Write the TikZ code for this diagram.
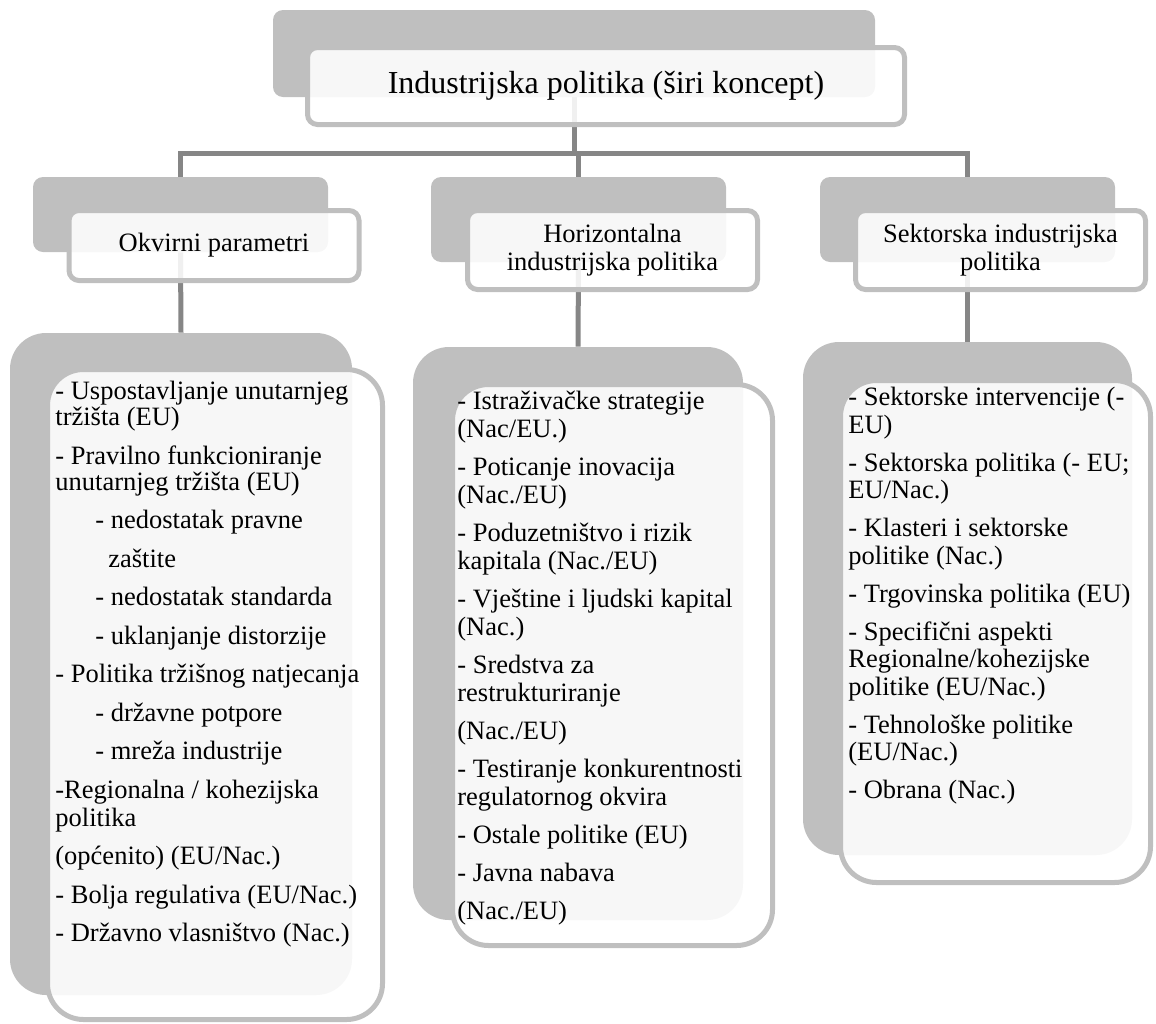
\documentclass[tikz,border=0pt]{standalone}
\usepackage{fontspec}
\setmainfont{Liberation Serif}
\usepackage{tikz}
\usetikzlibrary{backgrounds}
\definecolor{backgray}{RGB}{191,191,191}
\definecolor{linkgray}{RGB}{134,134,134}

\begin{document}
\begin{tikzpicture}[x=0.5pt,y=-0.5pt]
            \tikzstyle{every node}+=[inner sep=0pt]
            \tikzstyle{backbox}=[draw=none, fill=backgray, rounded corners=5pt]
            \tikzstyle{frontbox}=[draw=backgray, line width=2.5pt, fill=white, fill opacity=0.88, text opacity=1, rounded corners=5pt, align=center, font=\fontsize{13.25}{14}\selectfont]
            \tikzstyle{itemtext}=[anchor=north west, align=left]
            \tikzstyle{link}=[draw=linkgray, line width=2.5pt]
            \useasboundingbox (0,0) rectangle (1156,1023);
            \coordinate (bus) at (0,153);
            \node [backbox, minimum width=301pt, minimum height=43.5pt] (titleback) at (574,53.5) {};
            \node [frontbox, minimum width=298.5pt, minimum height=38.5pt, font=\fontsize{16}{18}\selectfont] (title) at (606,86) {Industrijska politika (širi koncept)};
            \node [backbox, minimum width=147.5pt, minimum height=37.5pt] (okvirback) at (180.5,214.5) {};
            \node [frontbox, minimum width=145pt, minimum height=35pt] (okvir) at (214,245.5) {Okvirni parametri};
            \node [backbox, minimum width=147.5pt, minimum height=42.5pt] (horizback) at (578.5,219.5) {};
            \node [frontbox, minimum width=145pt, minimum height=39.5pt] (horiz) at (612.5,250) {Horizontalna\\industrijska politika};
            \node [backbox, minimum width=147.5pt, minimum height=42.5pt] (sektorback) at (967.5,219.5) {};
            \node [frontbox, minimum width=145pt, minimum height=39.5pt] (sektor) at (1000.5,250) {Sektorska industrijska\\politika};
            \node [backbox, rounded corners=18pt, minimum width=171pt, minimum height=331pt] (okvirlistback) at (181,664) {};
            \node [frontbox, rounded corners=18pt, minimum width=167.5pt, minimum height=325pt] (okvirlist) at (215,694.5) {};
            \node [backbox, rounded corners=18pt, minimum width=165pt, minimum height=286.5pt] (horizlistback) at (578,633.5) {};
            \node [frontbox, rounded corners=18pt, minimum width=160pt, minimum height=280.5pt] (horizlist) at (612.5,665) {};
            \node [backbox, rounded corners=18pt, minimum width=164.5pt, minimum height=256.5pt] (sektorlistback) at (967.5,598.5) {};
            \node [frontbox, rounded corners=18pt, minimum width=155pt, minimum height=251pt] (sektorlist) at (995.5,631.5) {};
            \node [itemtext, font=\fontsize{13.25}{13}\selectfont] (okvirtext) at (55,381) {- Uspostavljanje unutarnjeg\\
tržišta (EU)\\[6.25pt]
- Pravilno funkcioniranje\\
unutarnjeg tržišta (EU)\\[6.25pt]
\hspace*{20pt}- nedostatak pravne\\[6.25pt]
\hspace*{26.5pt}zaštite\\[6.25pt]
\hspace*{20pt}- nedostatak standarda\\[6.25pt]
\hspace*{20pt}- uklanjanje distorzije\\[6.25pt]
- Politika tržišnog natjecanja\\[6.25pt]
\hspace*{20pt}- državne potpore\\[6.25pt]
\hspace*{20pt}- mreža industrije\\[6.25pt]
-Regionalna / kohezijska\\[1pt]
politika\\[6.25pt]
(općenito) (EU/Nac.)\\[6.25pt]
- Bolja regulativa (EU/Nac.)\\[6.25pt]
- Državno vlasništvo (Nac.)};
            \node [itemtext, font=\fontsize{13.25}{14}\selectfont] (horiztext) at (457,391) {- Istraživačke strategije\\
(Nac/EU.)\\[5pt]
- Poticanje inovacija\\
(Nac./EU)\\[5pt]
- Poduzetništvo i rizik\\
kapitala (Nac./EU)\\[5pt]
- Vještine i ljudski kapital\\
(Nac.)\\[5pt]
- Sredstva za\\
restrukturiranje\\[5pt]
(Nac./EU)\\[5pt]
- Testiranje konkurentnosti\\
regulatornog okvira\\[5pt]
- Ostale politike (EU)\\[5pt]
- Javna nabava\\[5pt]
(Nac./EU)};
            \node [itemtext, font=\fontsize{13.25}{13.75}\selectfont] (sektortext) at (848,387) {- Sektorske intervencije (-\\
EU)\\[5.25pt]
- Sektorska politika (- EU;\\
EU/Nac.)\\[5.25pt]
- Klasteri i sektorske\\
politike (Nac.)\\[5.25pt]
- Trgovinska politika (EU)\\[5.25pt]
- Specifični aspekti\\
Regionalne/kohezijske\\
politike (EU/Nac.)\\[5.25pt]
- Tehnološke politike\\
(EU/Nac.)\\[5.25pt]
- Obrana (Nac.)};
            \begin{scope}[on background layer]
            \draw [link] (titleback.south) -- (titleback.south |- bus);
            \draw [link, line join=miter] (okvirback.north) -- (okvirback.north |- bus) -- (sektorback.north |- bus) -- (sektorback.north);
            \draw [link] (horizback.north |- bus) -- (horizback.north);
            \draw [link] (okvirback.south) -- (okvirlistback.north);
            \draw [link] (horizback.south) -- (horizlistback.north);
            \draw [link] (sektorback.south) -- (sektorlistback.north);
            \end{scope}
            \end{tikzpicture}
\end{document}
